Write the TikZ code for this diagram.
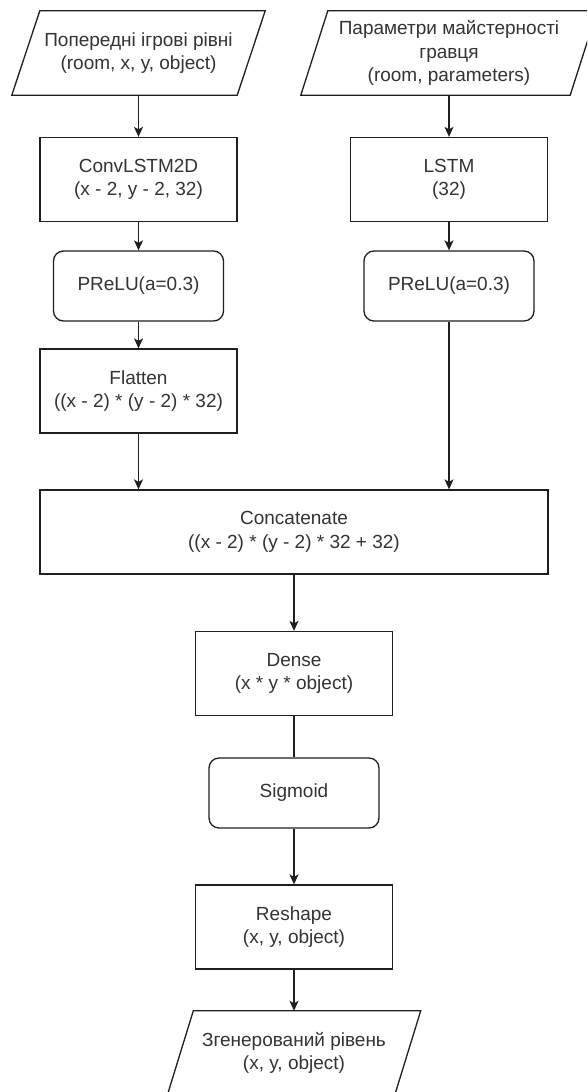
\documentclass[tikz,border=0pt]{standalone}
\usepackage{fontspec}
\setmainfont{Liberation Sans}
\usetikzlibrary{arrows.meta}
\definecolor{ink}{HTML}{1F1F1F}
\definecolor{txt}{HTML}{333333}

\begin{document}
\begin{tikzpicture}[x=1pt,y=-1pt,
  every node/.style={font=\fontsize{19}{23.5}\selectfont, text=txt, align=center, inner sep=0pt},
  box/.style={draw=ink, line width=1.3pt, minimum width=197pt, minimum height=84pt},
  rbox/.style={box, rounded corners=10pt, minimum width=170pt, minimum height=70pt},
  io/.style={minimum height=84pt},
  link/.style={draw=ink, line width=1.3pt},
  flow/.style={link, -{Stealth[length=10pt,width=9pt,inset=2.5pt]}}
]
% page frame
\useasboundingbox (0,0) rectangle (587,1092);
\fill[white] (0,0) rectangle (587,1092);
\clip (0,0) rectangle (587,1092);

% input / output data (parallelograms drawn below)
\node[io, minimum width=253pt] (in1) at (138.5,53) {Попередні ігрові рівні\\(room, x, y, object)};
\node[io, minimum width=296pt] (in2) at (449,53) {Параметри майстерності\\гравця\\(room, parameters)};
\node[io, minimum width=253pt] (out) at (294,1053) {Згенерований рівень\\(x, y, object)};

% layers
\node[box] (conv) at (138.5,179.5) {ConvLSTM2D\\(x - 2, y - 2, 32)};
\node[box] (lstm) at (449,179.5) {LSTM\\(32)};
\node[rbox] (act1) at (138.5,286) {PReLU(a=0.3)};
\node[rbox] (act2) at (449,286) {PReLU(a=0.3)};
\node[box] (flat) at (138.5,391) {Flatten\\((x - 2) * (y - 2) * 32)};
\node[box, minimum width=508pt] (cat) at (294,532) {Concatenate\\((x - 2) * (y - 2) * 32 + 32)};
\node[box] (dense) at (294,673.5) {Dense\\(x * y * object)};
\node[rbox] (sig) at (294,793) {Sigmoid};
\node[box] (resh) at (294,927) {Reshape\\(x, y, object)};

% parallelogram outlines around the data nodes
\foreach \n/\s in {in1/28, in2/27, out/26}
  \draw[link] ([xshift=\s pt]\n.north west) -- (\n.north east)
    -- ([xshift=-\s pt]\n.south east) -- (\n.south west) -- cycle;

% connectors
\draw[flow] (in1) -- (conv);
\draw[flow] (conv) -- (act1);
\draw[flow] (act1) -- (flat);
\draw[flow] (flat) -- (flat |- cat.north);
\draw[flow] (in2) -- (lstm);
\draw[flow] (lstm) -- (act2);
\draw[flow] (act2) -- (act2 |- cat.north);
\draw[flow] (cat) -- (dense);
\draw[link] (dense) -- (sig);
\draw[flow] (sig) -- (resh);
\draw[flow] (resh) -- (out);
\end{tikzpicture}
\end{document}
